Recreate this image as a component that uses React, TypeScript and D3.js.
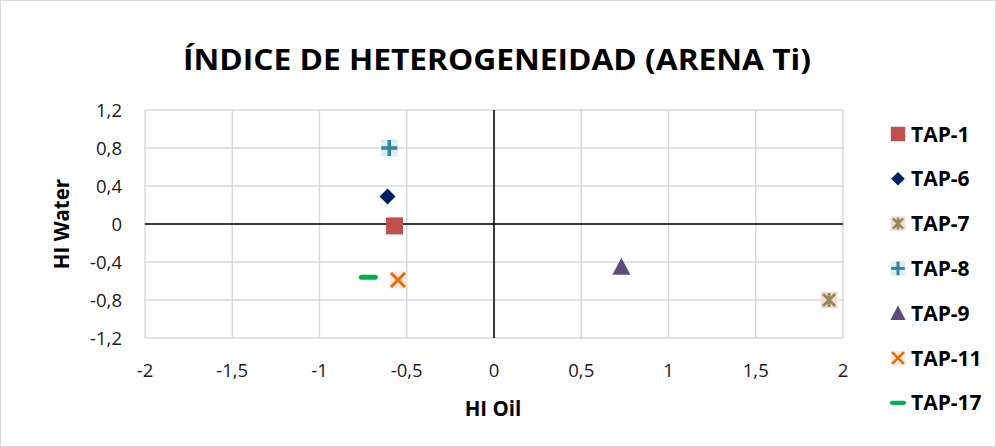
import React from "react";
import * as d3 from "d3";

const seriesNames = ["TAP-1", "TAP-6", "TAP-7", "TAP-8", "TAP-9", "TAP-11", "TAP-17"];
const hiOil = [-0.57, -0.61, 1.92, -0.6, 0.73, -0.55, -0.72];
const hiWater = [-0.02, 0.29, -0.8, 0.8, -0.45, -0.59, -0.56];
const xTicks = [-2, -1.5, -1, -0.5, 0, 0.5, 1, 1.5, 2];
const yTicks = [-1.2, -0.8, -0.4, 0, 0.4, 0.8, 1.2];

const W = 996;
const H = 447;
const x = d3.scaleLinear().domain([-2, 2]).range([145, 843]);
const y = d3.scaleLinear().domain([-1.2, 1.2]).range([338, 110]);
const fmt = (v: number) => String(v).replace(".", ",");
const FONT = "'Open Sans', 'Liberation Sans', sans-serif";

function Marker({ name, cx, cy }: { name: string; cx: number; cy: number }) {
  const s = 8.5;
  switch (name) {
    case "TAP-1":
      return <rect x={cx - s} y={cy - s} width={2 * s} height={2 * s} fill="#C0504D" />;
    case "TAP-6":
      return (
        <path
          d={`M${cx},${cy - 8} L${cx + 8},${cy} L${cx},${cy + 8} L${cx - 8},${cy} Z`}
          fill="#002060"
        />
      );
    case "TAP-7":
      return (
        <g>
          <rect x={cx - s} y={cy - s} width={2 * s} height={2 * s} fill="#F2DCDB" />
          <g stroke="#948A54" strokeWidth={3}>
            <line x1={cx - 6} y1={cy - 6} x2={cx + 6} y2={cy + 6} />
            <line x1={cx - 6} y1={cy + 6} x2={cx + 6} y2={cy - 6} />
            <line x1={cx} y1={cy - 7} x2={cx} y2={cy + 7} />
          </g>
        </g>
      );
    case "TAP-8":
      return (
        <g>
          <rect x={cx - s} y={cy - s} width={2 * s} height={2 * s} fill="#DAEEF3" />
          <g stroke="#31859C" strokeWidth={3.5}>
            <line x1={cx - 8} y1={cy} x2={cx + 8} y2={cy} />
            <line x1={cx} y1={cy - 8} x2={cx} y2={cy + 8} />
          </g>
        </g>
      );
    case "TAP-9":
      return (
        <path
          d={`M${cx},${cy - 9} L${cx + 9},${cy + 8} L${cx - 9},${cy + 8} Z`}
          fill="#604A7B"
        />
      );
    case "TAP-11":
      return (
        <g>
          <rect x={cx - s} y={cy - s} width={2 * s} height={2 * s} fill="#FDE9D9" />
          <g stroke="#E36C09" strokeWidth={3}>
            <line x1={cx - 7} y1={cy - 7} x2={cx + 7} y2={cy + 7} />
            <line x1={cx - 7} y1={cy + 7} x2={cx + 7} y2={cy - 7} />
          </g>
        </g>
      );
    case "TAP-17":
      return (
        <line
          x1={cx - 7}
          y1={cy}
          x2={cx + 7}
          y2={cy}
          stroke="#00B050"
          strokeWidth={5}
          strokeLinecap="round"
        />
      );
    default:
      return null;
  }
}

export default function App() {
  return (
    <div style={{ position: "absolute", left: 0, top: 0 }}>
      <svg width={W} height={H} style={{ display: "block", fontFamily: FONT }}>
        <rect x={0.5} y={0.5} width={W - 1} height={H - 1} fill="#fff" stroke="#d9d9d9" />
        <text
          x={497}
          y={70}
          textAnchor="middle"
          fontSize={28}
          fontWeight="bold"
          fill="#000"
          textLength={628}
          lengthAdjust="spacingAndGlyphs"
        >
          ÍNDICE DE HETEROGENEIDAD (ARENA Ti)
        </text>

        {/* gridlines */}
        {yTicks.map((t) => (
          <line key={"gy" + t} x1={x(-2)} x2={x(2)} y1={y(t)} y2={y(t)} stroke="#d9d9d9" strokeWidth={1.5} />
        ))}
        {xTicks.map((t) => (
          <line key={"gx" + t} x1={x(t)} x2={x(t)} y1={y(1.2)} y2={y(-1.2)} stroke="#d9d9d9" strokeWidth={1.5} />
        ))}
        {/* zero axes */}
        <line x1={x(-2)} x2={x(2)} y1={y(0)} y2={y(0)} stroke="#000" strokeWidth={1.5} />
        <line x1={x(0)} x2={x(0)} y1={y(1.2)} y2={y(-1.2)} stroke="#000" strokeWidth={1.5} />

        {/* tick labels */}
        {yTicks.map((t) => (
          <text key={"ly" + t} x={122} y={y(t) + 6.5} textAnchor="end" fontSize={18.5} fill="#1a1a1a">
            {fmt(t)}
          </text>
        ))}
        {xTicks.map((t) => (
          <text key={"lx" + t} x={x(t)} y={377} textAnchor="middle" fontSize={18.5} fill="#1a1a1a">
            {fmt(t)}
          </text>
        ))}

        {/* axis titles */}
        <text x={493} y={416} textAnchor="middle" fontSize={20.5} fontWeight="bold" fill="#000">
          HI Oil
        </text>
        <text
          transform={`translate(69,${y(0)}) rotate(-90)`}
          textAnchor="middle"
          fontSize={20.5}
          fontWeight="bold"
          fill="#000"
        >
          HI Water
        </text>

        {/* points */}
        {seriesNames.map((n, i) => (
          <Marker key={n} name={n} cx={x(hiOil[i])} cy={y(hiWater[i])} />
        ))}

        {/* legend */}
        {seriesNames.map((n, i) => {
          const ly = 134 + i * 44.8;
          return (
            <g key={"lg" + n}>
              <g transform={`translate(${898},${ly}) scale(0.85) translate(${-898},${-ly})`}>
                <Marker name={n} cx={898} cy={ly} />
              </g>
              <text x={911} y={ly + 7.5} fontSize={21} fontWeight="bold" fill="#000">
                {n}
              </text>
            </g>
          );
        })}
      </svg>
    </div>
  );
}
